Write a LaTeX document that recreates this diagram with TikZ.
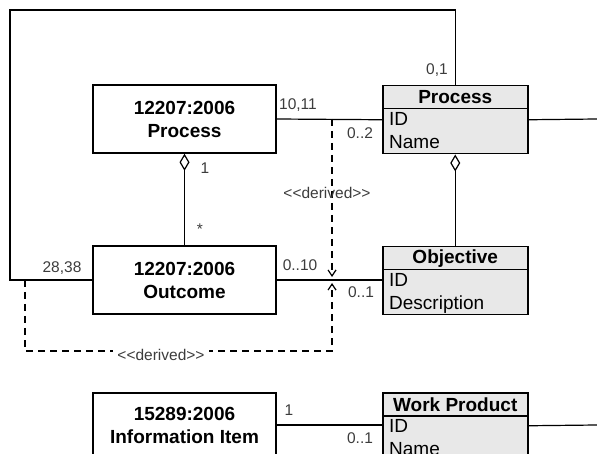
\documentclass[tikz,border=0pt]{standalone}
\usepackage{fontspec}
\setmainfont{Liberation Sans}
\usetikzlibrary{arrows.meta}
\definecolor{clsgray}{RGB}{232,232,232}
\definecolor{labelgray}{RGB}{60,60,60}

\begin{document}
\begin{tikzpicture}[x=1pt,y=-1pt,
  every node/.style={inner sep=0pt},
  stdbox/.style={draw,line width=1.5pt,minimum width=183pt,minimum height=68pt,
    align=center,font=\fontsize{19}{23}\selectfont\bfseries},
  clsbox/.style={draw,line width=1.5pt,fill=clsgray,minimum width=145pt,
    minimum height=68pt,anchor=north west},
  clshead/.style={draw,line width=1.5pt,fill=clsgray,minimum width=145pt,
    minimum height=23pt,anchor=north,font=\fontsize{19}{23}\selectfont\bfseries},
  attrs/.style={anchor=north west,align=left,inner xsep=7pt,inner ysep=3pt,
    font=\fontsize{19}{22.5}\selectfont},
  mult/.style={font=\fontsize{15.5}{16}\selectfont,text=labelgray},
  assoc/.style={line width=1.2pt},
  derived/.style={line width=1.2pt,dash pattern=on 7pt off 5pt},
  agg/.style={-{Diamond[open,length=17pt,width=10pt]}},
  dertip/.style={-{Straight Barb[length=6pt,width=8pt]}}]
  \useasboundingbox (0,0) rectangle (597,454);

  % ISO 12207 / 15289 classes
  \node[stdbox] (p12207) at (184.5,119) {12207:2006\\Process};
  \node[stdbox] (out) at (184.5,280) {12207:2006\\Outcome};
  \node[stdbox,minimum height=64pt] (info) at (184.5,425) {15289:2006\\Information Item};

  % metamodel classes
  \node[clsbox] (proc) at (382,85) {};
  \node[clshead] (proch) at (proc.north) {Process};
  \node[attrs] (proca) at (proch.south west) {ID\\Name};
  \node[clsbox] (obj) at (382,246) {};
  \node[clshead] (objh) at (obj.north) {Objective};
  \node[attrs] (obja) at (objh.south west) {ID\\Description};
  \node[clsbox,minimum height=66pt] (wp) at (382,392) {};
  \node[clshead] (wph) at (wp.north) {Work Product};
  \node[attrs] (wpa) at (wph.south west) {ID\\Name};

  \coordinate (loopcorner) at (10,10);
  \coordinate (procright) at (597,119);
  \coordinate (wpright) at (597,425);
  \coordinate (dertop) at (332,119);
  \coordinate (derabove) at (332,277);
  \coordinate (derbelow) at (332,283);
  \coordinate (derleft) at (25,280);
  \coordinate (derbottom) at (332,351);

  % associations
  \draw[assoc] (p12207.east) -- (proc.west);
  \draw[assoc] (out.east) -- (out.east -| obj.west);
  \draw[assoc] (info.east) -- (info.east -| wp.west);
  \draw[assoc,agg] (out.north) -- (p12207.south);
  \draw[assoc,agg] (obj.north) -- (proc.south);
  \draw[assoc] (out.west) -| (loopcorner) -| (proc.north);
  \draw[assoc] (proc.east) -- (procright);
  \draw[assoc] (wp.east) -- (wpright);

  % derived
  \draw[derived,dertip] (dertop) -- (derabove);
  \draw[derived,dertip] (derleft) |- (derbottom) -- (derbelow);

  \node[mult] at (437,70) {0,1};
  \node[mult] at (298,105) {10,11};
  \node[mult] at (360,133) {0..2};
  \node[mult] at (205,168) {1};
  \node[mult] at (200,229) {*};
  \node[mult] at (62,268) {28,38};
  \node[mult] at (300,265) {0..10};
  \node[mult] at (361,292) {0..1};
  \node[mult] at (289,410) {1};
  \node[mult] at (360,438) {0..1};
  \node[mult] at (327,193) {<{}<derived>{}>};
  \node[mult,fill=white,inner xsep=4pt,inner ysep=2pt] at (161,355) {<{}<derived>{}>};
\end{tikzpicture}
\end{document}
